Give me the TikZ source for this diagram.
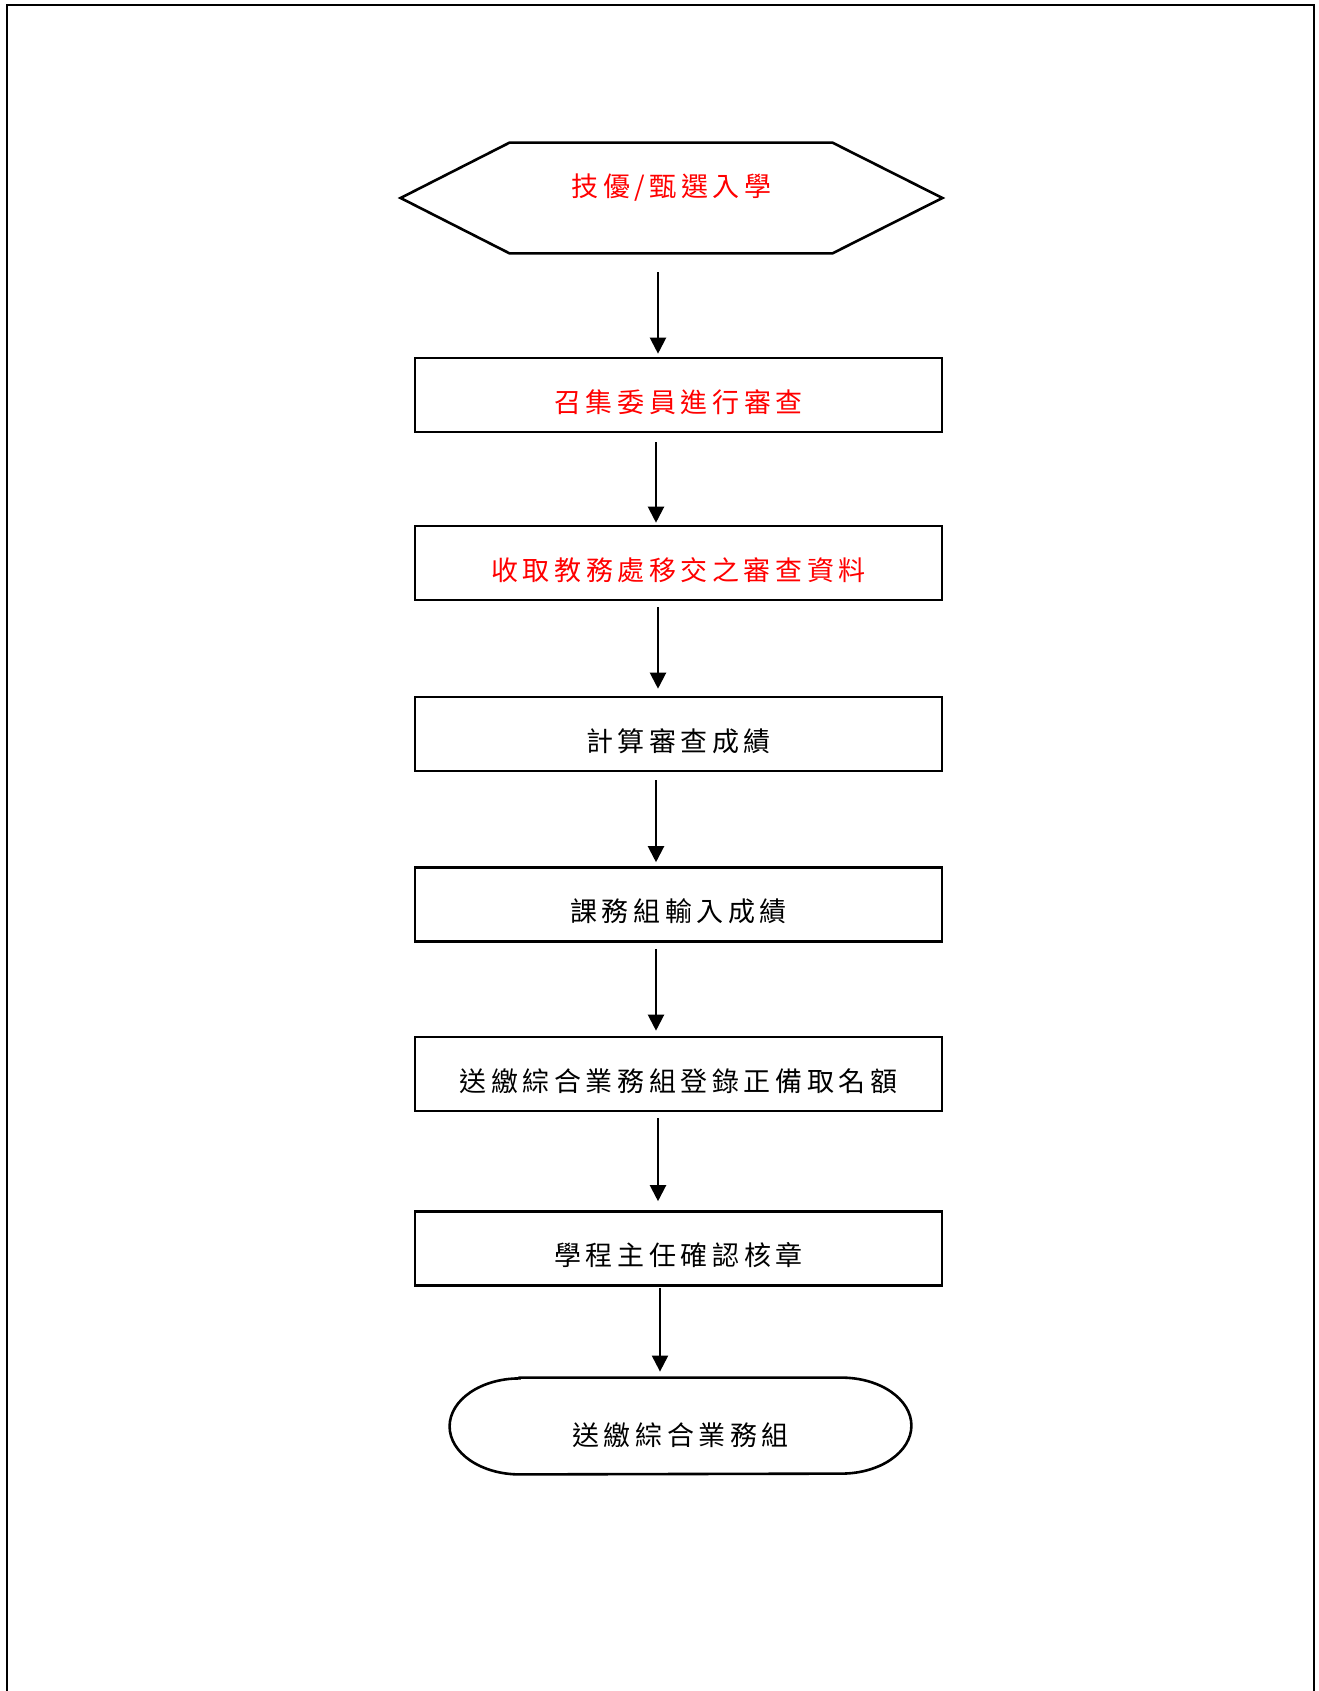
\documentclass[tikz,border=0pt]{standalone}
\usepackage{fontspec}
\setmainfont{Noto Sans CJK TC}
\usetikzlibrary{arrows.meta}
\makeatletter
\def\lsp#1{\lsp@#1\@nil}
\def\lsp@#1#2\@nil{#1\ifx\relax#2\relax\else\hspace{2.3pt}\lsp@#2\@nil\fi}
\makeatother
\newcommand\tshift[2]{\raisebox{#1}[\height][\depth]{\lsp{#2}}}
\tikzset{
  stepbox/.style={draw, line width=1.3pt, minimum width=263.5pt, minimum height=37pt, inner sep=0pt, font=\fontsize{13.5}{15}\selectfont},
  redtext/.style={text=red},
  arr/.style={line width=1.05pt, -{Triangle[width=8pt,length=8pt]}},
  frameline/.style={line width=1pt},
  outline/.style={line width=1.3pt}
}
\begin{document}
\begin{tikzpicture}[x=0.5pt,y=-0.5pt]
\useasboundingbox (0,0) rectangle (1318,1691);
\draw[frameline] (7,1691) -- (7,5) -- (1314,5) -- (1314,1691);

% start hexagon
\node[minimum width=270.5pt, minimum height=55pt, inner sep=0pt, redtext, font=\fontsize{13.5}{15}\selectfont] (hex) at (671.5,198) {\tshift{5pt}{技優/甄選入學}};
\draw[outline, line join=miter] (hex.west) -- ([xshift=54.5pt]hex.north west) -- ([xshift=-55pt]hex.north east) -- (hex.east) -- ([xshift=-55pt]hex.south east) -- ([xshift=54.5pt]hex.south west) -- cycle;

\node[stepbox, redtext] (b1) at (678.5,395) {\tshift{-3.5pt}{召集委員進行審查}};
\node[stepbox, redtext] (b2) at (678.5,563) {\tshift{-3.5pt}{收取教務處移交之審查資料}};
\node[stepbox] (b3) at (678.5,734) {\tshift{-3.5pt}{計算審查成績}};
\node[stepbox] (b4) at (678.5,904.5) {\tshift{-3.5pt}{課務組輸入成績}};
\node[stepbox] (b5) at (678.5,1074) {\tshift{-3.5pt}{送繳綜合業務組登錄正備取名額}};
\node[stepbox] (b6) at (678.5,1248.5) {\tshift{-3.5pt}{學程主任確認核章}};

% terminal
\node[minimum width=230.5pt, minimum height=48pt, inner sep=0pt, font=\fontsize{13.5}{15}\selectfont] (term) at (680.5,1426) {\tshift{-4.5pt}{送繳綜合業務組}};
\draw[outline] ([xshift=35pt]term.north west) -- ([xshift=-35pt]term.north east)
  arc[start angle=90, end angle=-90, x radius=35pt, y radius=24pt]
  -- ([xshift=35pt]term.south west)
  arc[start angle=270, end angle=90, x radius=35pt, y radius=24pt] -- cycle;

% connectors
\draw[arr, shorten <=9.5pt, shorten >=1.5pt] ([xshift=-6.75pt]hex.south) -- ([xshift=-10.25pt]b1.north);
\draw[arr, shorten <=4.5pt, shorten >=1pt] ([xshift=-11.25pt]b1.south) -- ([xshift=-11.25pt]b2.north);
\draw[arr, shorten <=3pt, shorten >=3.5pt] ([xshift=-10.25pt]b2.south) -- ([xshift=-10.25pt]b3.north);
\draw[arr, shorten <=4pt, shorten >=2pt] ([xshift=-11.25pt]b3.south) -- ([xshift=-11.25pt]b4.north);
\draw[arr, shorten <=3pt, shorten >=2.5pt] ([xshift=-11.25pt]b4.south) -- ([xshift=-11.25pt]b5.north);
\draw[arr, shorten <=3pt, shorten >=4.5pt] ([xshift=-10.25pt]b5.south) -- ([xshift=-10.25pt]b6.north);
\draw[arr, shorten <=0.5pt, shorten >=3pt] ([xshift=-9.25pt]b6.south) -- ([xshift=-10.25pt]term.north);
\end{tikzpicture}
\end{document}
